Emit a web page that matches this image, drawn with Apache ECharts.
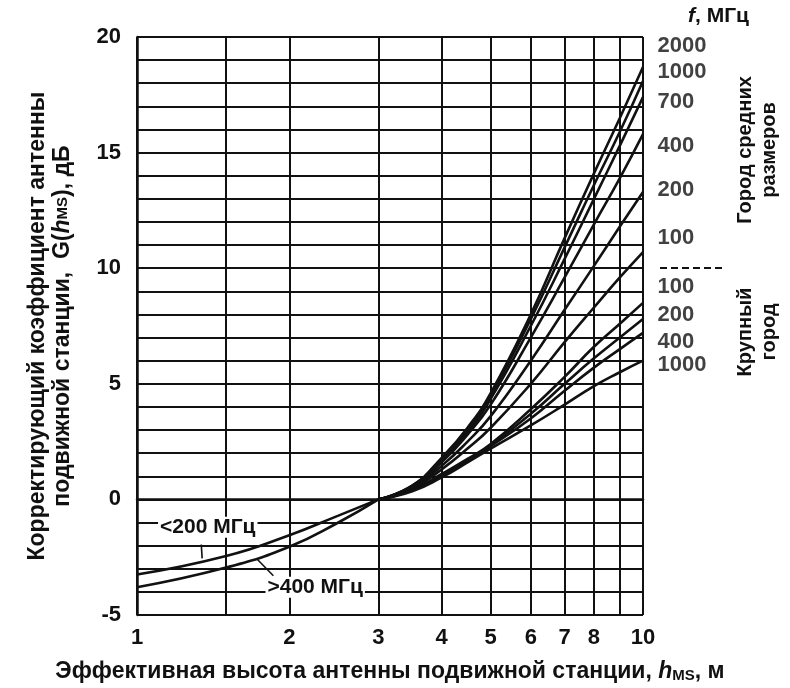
<!DOCTYPE html>
<html lang="ru">
<head>
<meta charset="UTF-8">
<title>Высотный коэффициент антенны</title>
<script src="https://cdn.jsdelivr.net/npm/echarts@6/dist/echarts.min.js"></script>
<style>html,body{margin:0;background:#fff}#chart{width:790px;height:688px}</style>
</head>
<body>
<div id="chart"></div>
<script>
// высоты антенны, м (ниже 3 м)
const heightsLow = [1, 1.5, 2, 2.5, 3];
const below200 = [-3.25, -2.45, -1.55, -0.7, 0];
const above400 = [-3.8, -2.95, -2.05, -1.0, 0];

// высоты антенны, м (выше 3 м)
const heightsHigh = [3, 3.5, 4, 4.5, 5, 6, 7, 8, 9, 10];
// город средних размеров
const mid2000 = [0, 0.6, 1.8, 3.1, 4.6, 8.0, 11.3, 14.1, 16.5, 18.7];
const mid1000 = [0, 0.6, 1.75, 3.0, 4.5, 7.8, 10.9, 13.6, 15.9, 18.1];
const mid700 = [0, 0.55, 1.7, 2.9, 4.35, 7.5, 10.4, 13.0, 15.3, 17.4];
const mid400 = [0, 0.55, 1.6, 2.8, 4.1, 7.0, 9.6, 11.9, 13.9, 15.8];
const mid200 = [0, 0.5, 1.45, 2.5, 3.6, 6.0, 8.2, 10.1, 11.8, 13.3];
const mid100 = [0, 0.45, 1.3, 2.2, 3.1, 5.0, 6.8, 8.3, 9.6, 10.7];
// крупный город
const big100 = [0, 0.4, 1.1, 1.75, 2.4, 3.9, 5.3, 6.6, 7.6, 8.5];
const big200 = [0, 0.4, 1.05, 1.7, 2.35, 3.7, 5.0, 6.1, 7.0, 7.8];
const big400 = [0, 0.4, 1.0, 1.65, 2.3, 3.5, 4.7, 5.7, 6.5, 7.2];
const big1000 = [0, 0.35, 0.95, 1.6, 2.2, 3.2, 4.1, 4.9, 5.5, 6.0];

// подписи частот справа
const freqNames = ['2000', '1000', '700', '400', '200', '100', '100', '200', '400', '1000'];
const freqLabelY = [19.6, 18.5, 17.2, 15.3, 13.4, 11.3, 9.2, 8.0, 6.8, 5.8];

const xTickValues = [1, 2, 3, 4, 5, 6, 7, 8, 10];
const xGridValues = [1, 1.5, 2, 3, 4, 5, 6, 7, 8, 9, 10];

const FONT = "'Liberation Sans', Arial, sans-serif";
const INK = '#111';

function pairs(xs, ys) {
    return xs.map((x, i) => [x, ys[i]]);
}

function curve(name, xs, ys, extra) {
    return Object.assign({
        name: name,
        type: 'line',
        data: pairs(xs, ys),
        smooth: true,
        symbol: 'none',
        lineStyle: { color: INK, width: 2.6 },
        z: 5
    }, extra || {});
}

const annLabel = {
    show: true,
    color: INK,
    fontFamily: FONT,
    fontWeight: 'bold',
    fontSize: 21,
    backgroundColor: '#fff',
    padding: [0, 2]
};

let myChart = echarts.init(document.getElementById('chart'));

let option = {
    backgroundColor: '#fff',
    animation: false,
    grid: { left: 137, right: 147, top: 37, bottom: 73 },
    xAxis: {
        type: 'log',
        logBase: 10,
        min: 1,
        max: 10,
        name: 'Эффективная высота антенны подвижной станции, {i|h}{s|MS}, м',
        nameLocation: 'middle',
        nameGap: 45,
        nameTextStyle: {
            color: INK, fontFamily: FONT, fontWeight: 'bold', fontSize: 23,
            rich: {
                i: { fontStyle: 'italic', fontFamily: FONT, fontSize: 23, color: INK },
                s: { fontFamily: FONT, fontSize: 15, fontWeight: 'bold', color: INK, verticalAlign: 'bottom', padding: [6, 0, 0, 0] }
            }
        },
        axisLine: { show: true, lineStyle: { color: INK, width: 2.5 } },
        axisTick: { show: false, customValues: xGridValues },
        axisLabel: {
            customValues: xTickValues,
            color: INK, fontFamily: FONT, fontWeight: 'bold', fontSize: 22, margin: 12
        },
        splitLine: { show: true, lineStyle: { color: INK, width: 2 } },
        minorSplitLine: { show: false }
    },
    yAxis: {
        type: 'value',
        min: -5,
        max: 20,
        interval: 1,
        name: 'Корректирующий коэффициент антенны\nподвижной станции,  G({i|h}{s|MS}), дБ',
        nameLocation: 'middle',
        nameRotate: 90,
        nameGap: 62,
        nameTextStyle: {
            color: INK, fontFamily: FONT, fontWeight: 'bold', fontSize: 23, lineHeight: 25,
            rich: {
                i: { fontStyle: 'italic', fontFamily: FONT, fontSize: 23, color: INK },
                s: { fontFamily: FONT, fontSize: 15, fontWeight: 'bold', color: INK }
            }
        },
        axisLine: { show: true, lineStyle: { color: INK, width: 2.5 } },
        axisTick: { show: false },
        axisLabel: {
            color: INK, fontFamily: FONT, fontWeight: 'bold', fontSize: 22, margin: 16,
            formatter: v => (v % 5 === 0 ? String(v) : '')
        },
        splitLine: { show: true, lineStyle: { color: INK, width: 2 } }
    },
    series: [
        curve('<200 МГц', heightsLow, below200, {
            markPoint: {
                symbolSize: 0,
                data: [{ coord: [1.38, -1.2], label: Object.assign({ formatter: '<200 МГц' }, annLabel) }]
            },
            markLine: {
                silent: true,
                symbol: 'none',
                label: { show: false },
                lineStyle: { color: INK, width: 1.6, type: 'solid' },
                data: [[{ coord: [1.34, -1.95] }, { coord: [1.345, -2.55] }]]
            }
        }),
        curve('>400 МГц', heightsLow, above400, {
            markPoint: {
                symbolSize: 0,
                data: [{ coord: [2.25, -3.8], label: Object.assign({ formatter: '>400 МГц' }, annLabel) }]
            },
            markLine: {
                silent: true,
                symbol: 'none',
                label: { show: false },
                lineStyle: { color: INK, width: 1.6, type: 'solid' },
                data: [[{ coord: [1.73, -2.6] }, { coord: [1.86, -3.3] }]]
            }
        }),
        curve('2000', heightsHigh, mid2000),
        curve('1000', heightsHigh, mid1000),
        curve('700', heightsHigh, mid700),
        curve('400', heightsHigh, mid400),
        curve('200', heightsHigh, mid200),
        curve('100', heightsHigh, mid100),
        curve('100 к', heightsHigh, big100),
        curve('200 к', heightsHigh, big200),
        curve('400 к', heightsHigh, big400),
        curve('1000 к', heightsHigh, big1000),
        {
            name: 'f',
            type: 'scatter',
            symbolSize: 1,
            itemStyle: { color: 'rgba(0,0,0,0)' },
            silent: true,
            data: freqLabelY.map((y, i) => ({ value: [10, y], name: freqNames[i] })),
            label: {
                show: true,
                position: 'right',
                distance: 14,
                formatter: p => p.name,
                color: INK, fontFamily: FONT, fontWeight: 'bold', fontSize: 22
            }
        }
    ],
    graphic: [
        {
            type: 'text', left: 688, top: 6,
            style: {
                text: '{i|f}, МГц',
                fill: INK, font: 'bold 21px ' + FONT,
                rich: { i: { fontStyle: 'italic', fontWeight: 'bold', fontSize: 21, fontFamily: FONT, fill: INK } }
            }
        },
        {
            type: 'line',
            shape: { x1: 660, y1: 268, x2: 722, y2: 268 },
            style: { stroke: INK, lineWidth: 2, lineDash: [7, 4] }
        },
        {
            type: 'text', x: 757, y: 150, rotation: Math.PI / 2,
            style: {
                text: 'Город средних\nразмеров', align: 'center', verticalAlign: 'middle',
                fill: INK, font: 'bold 20px ' + FONT, lineHeight: 24
            }
        },
        {
            type: 'text', x: 757, y: 332, rotation: Math.PI / 2,
            style: {
                text: 'Крупный\nгород', align: 'center', verticalAlign: 'middle',
                fill: INK, font: 'bold 20px ' + FONT, lineHeight: 24
            }
        }
    ]
};

myChart.setOption(option);
</script>
</body>
</html>
